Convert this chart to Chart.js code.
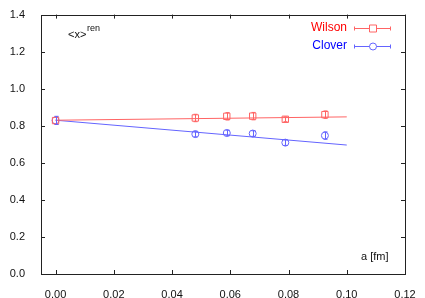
<!DOCTYPE html>
<html>
<head>
<meta charset="utf-8">
<script src="https://cdn.jsdelivr.net/npm/chart.js@4"></script>
<style>
  body { margin: 0; background: #fff; }
  canvas { display: block; }
</style>
</head>
<body>
<canvas id="chart" width="425" height="298"></canvas>
<script>
// lattice spacings (fm) and <x>^ren values
const wilsonA = [0, 0.048, 0.0588, 0.0677, 0.0789, 0.0925];
const wilsonVal = [0.828, 0.842, 0.851, 0.852, 0.835, 0.86];
const wilsonErr = [0.02, 0.02, 0.02, 0.02, 0.013, 0.02];

const cloverA = [0, 0.048, 0.0588, 0.0677, 0.0789, 0.0925];
const cloverVal = [0.829, 0.755, 0.761, 0.758, 0.709, 0.747];
const cloverErr = [0.022, 0.015, 0.015, 0.015, 0.015, 0.02];

// linear fits
const fitA = [0, 0.1];
const wilsonFit = [0.83, 0.848];
const cloverFit = [0.83, 0.696];

const xTicks = [0, 0.02, 0.04, 0.06, 0.08, 0.10, 0.12];
const yTicks = [0, 0.2, 0.4, 0.6, 0.8, 1.0, 1.2, 1.4];

const redLine = 'rgb(255,100,100)';
const blueLine = 'rgb(100,100,255)';
const font = '"Liberation Sans", Arial, sans-serif';

const toPts = (xs, ys) => xs.map((x, i) => ({x: x, y: ys[i]}));

const errs = [wilsonErr, cloverErr];

// gnuplot style frame with inward ticks on all sides
const framePlugin = {
  id: 'frame',
  afterDraw(chart) {
    const ctx = chart.ctx;
    const a = chart.chartArea;
    const xs = chart.scales.x, ys = chart.scales.y;
    ctx.save();
    ctx.strokeStyle = '#222';
    ctx.lineWidth = 1;
    ctx.strokeRect(Math.round(a.left) + 0.5, Math.round(a.top) + 0.5,
      Math.round(a.right - a.left), Math.round(a.bottom - a.top));
    ctx.beginPath();
    xTicks.forEach(v => {
      const px = Math.round(xs.getPixelForValue(v)) + 0.5;
      ctx.moveTo(px, a.bottom); ctx.lineTo(px, a.bottom - 4);
      ctx.moveTo(px, a.top); ctx.lineTo(px, a.top + 4);
    });
    yTicks.forEach(v => {
      const py = Math.round(ys.getPixelForValue(v)) + 0.5;
      ctx.moveTo(a.left, py); ctx.lineTo(a.left + 4, py);
      ctx.moveTo(a.right, py); ctx.lineTo(a.right - 4, py);
    });
    ctx.stroke();

    // labels
    ctx.fillStyle = '#111';
    ctx.textBaseline = 'middle';
    ctx.textAlign = 'left';
    ctx.font = '11px ' + font;
    ctx.fillText('<x>', 68, 35);
    ctx.font = '9px ' + font;
    ctx.fillText('ren', 87, 29);
    ctx.font = '11px ' + font;
    ctx.fillText('a [fm]', 361, 257);

    // legend
    const items = [
      {text: 'Wilson', color: '#ff0000', line: redLine, style: 'rect', y: 28},
      {text: 'Clover', color: '#0000ff', line: blueLine, style: 'circle', y: 46}
    ];
    ctx.font = '12px ' + font;
    ctx.textAlign = 'right';
    items.forEach(it => {
      ctx.fillStyle = it.color;
      ctx.fillText(it.text, 347, it.y);
      ctx.strokeStyle = it.line;
      const y = it.y + 0.5;
      ctx.beginPath();
      ctx.moveTo(354, y); ctx.lineTo(391, y);
      ctx.moveTo(354.5, y - 2); ctx.lineTo(354.5, y + 2);
      ctx.moveTo(390.5, y - 2); ctx.lineTo(390.5, y + 2);
      ctx.stroke();
      ctx.fillStyle = '#fff';
      ctx.beginPath();
      if (it.style === 'rect') {
        ctx.rect(369.5, y - 3.5, 7, 7);
      } else {
        ctx.arc(373, y, 3.5, 0, Math.PI * 2);
      }
      ctx.fill();
      ctx.stroke();
    });
    ctx.restore();
  },
  afterDatasetsDraw(chart) {
    const ctx = chart.ctx;
    const xs = chart.scales.x, ys = chart.scales.y;
    ctx.save();
    ctx.lineWidth = 1;
    [0, 1].forEach(di => {
      const ds = chart.data.datasets[di];
      ctx.strokeStyle = ds.borderColor;
      ctx.beginPath();
      ds.data.forEach((p, i) => {
        const px = Math.round(xs.getPixelForValue(p.x)) + 0.5;
        const top = ys.getPixelForValue(p.y + errs[di][i]);
        const bot = ys.getPixelForValue(p.y - errs[di][i]);
        ctx.moveTo(px, top); ctx.lineTo(px, bot);
        ctx.moveTo(px - 2, top); ctx.lineTo(px + 2, top);
        ctx.moveTo(px - 2, bot); ctx.lineTo(px + 2, bot);
      });
      ctx.stroke();
    });
    ctx.restore();
  }
};

new Chart(document.getElementById('chart'), {
  type: 'scatter',
  data: {
    datasets: [
      {
        label: 'Wilson',
        data: toPts(wilsonA, wilsonVal),
        borderColor: redLine,
        backgroundColor: 'rgba(0,0,0,0)',
        pointStyle: 'rect',
        pointRadius: 4.5,
        borderWidth: 1
      },
      {
        label: 'Clover',
        data: toPts(cloverA, cloverVal),
        borderColor: blueLine,
        backgroundColor: 'rgba(0,0,0,0)',
        pointStyle: 'circle',
        pointRadius: 3.5,
        borderWidth: 1
      },
      {
        label: 'Wilson fit',
        data: toPts(fitA, wilsonFit),
        showLine: true,
        borderColor: redLine,
        borderWidth: 1,
        pointRadius: 0
      },
      {
        label: 'Clover fit',
        data: toPts(fitA, cloverFit),
        showLine: true,
        borderColor: blueLine,
        borderWidth: 1,
        pointRadius: 0
      }
    ]
  },
  options: {
    responsive: false,
    animation: false,
    layout: { padding: { top: 14, right: 20, left: 0, bottom: 0 } },
    plugins: {
      legend: { display: false },
      tooltip: { enabled: false }
    },
    scales: {
      x: {
        type: 'linear',
        min: -0.005,
        max: 0.12,
        grid: { display: false },
        border: { display: false },
        afterBuildTicks: s => { s.ticks = xTicks.map(v => ({value: v})); },
        afterFit: s => { s.height = 24; },
        ticks: {
          padding: 6,
          color: '#111',
          font: { family: font, size: 11 },
          callback: v => v.toFixed(2)
        }
      },
      y: {
        min: 0,
        max: 1.4,
        grid: { display: false },
        border: { display: false },
        afterBuildTicks: s => { s.ticks = yTicks.map(v => ({value: v})); },
        afterFit: s => { s.width = 41; },
        ticks: {
          padding: 8,
          color: '#111',
          font: { family: font, size: 11 },
          callback: v => v.toFixed(1)
        }
      }
    }
  },
  plugins: [framePlugin]
});
</script>
</body>
</html>
